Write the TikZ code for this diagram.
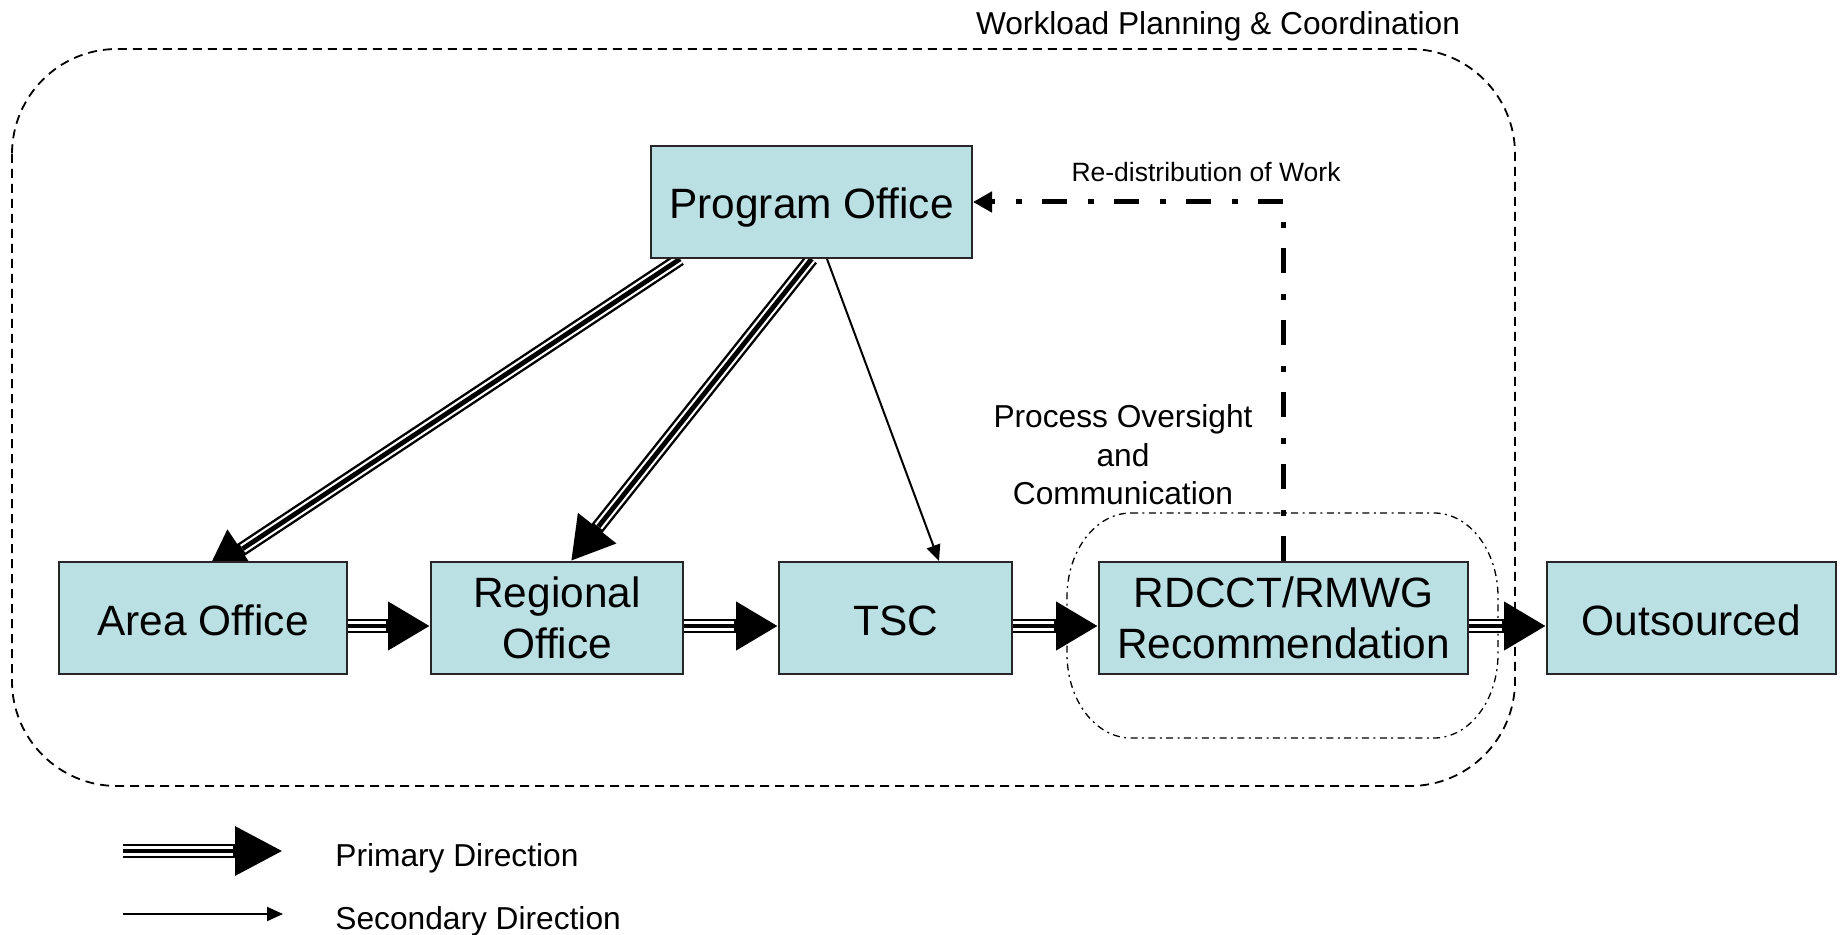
\documentclass[tikz,border=0pt]{standalone}
\usepackage{fontspec}
\setmainfont{Liberation Sans}
\usetikzlibrary{arrows.meta}
\pgfdeclarelayer{behind}
\pgfsetlayers{behind,main}
\definecolor{boxfill}{RGB}{187,224,227}
\newcommand\BoxFnt{\fontsize{21.2pt}{25.3pt}\selectfont}
\newcommand\MidFnt{\fontsize{15.85pt}{19.25pt}\selectfont}
\newcommand\SmallFnt{\fontsize{13.25pt}{16pt}\selectfont}

\begin{document}
\begin{tikzpicture}[x=0.5pt,y=-0.5pt,
  officebox/.style={draw=black!85, line width=1pt, fill=boxfill, inner sep=0pt,
    align=center, font=\BoxFnt, minimum height=56pt},
  oneline/.style={text height=17pt, text depth=0pt},
  primary/.style={draw=black, line width=7pt,
    -{Triangle[length=#1,width=23pt]},
    postaction={draw=white, line width=4.6pt, -, shorten >=#1+1pt},
    postaction={draw=black, line width=2.4pt, -, shorten >=#1+1pt}},
  primary/.default=21pt,
  secondary/.style={draw=black, line width=1pt, -{Triangle[length=8pt,width=7pt]}},
  redist/.style={draw=black, line width=2.5pt,
    dash pattern=on 12.5pt off 10pt on 3pt off 10.5pt,
    -{Triangle[length=9.5pt,width=10pt]}},
  outerline/.style={draw=black, line width=0.9pt, dash pattern=on 4.5pt off 3pt},
  innerline/.style={draw=black, line width=0.65pt,
    dash pattern=on 3.5pt off 2.2pt on 1pt off 2.2pt},
  plain/.style={inner sep=0pt}
]
\useasboundingbox (0,0) rectangle (1840,935);

% offices
\node[officebox, oneline, minimum width=160.5pt] (po)   at (811.5,202)  {Program Office};
\node[officebox, oneline, minimum width=144pt]   (area) at (203,618)    {Area Office};
\node[officebox, minimum width=126pt]            (reg)  at (557,618)    {Regional\\Office};
\node[officebox, oneline, minimum width=116.5pt] (tsc)  at (895.5,618)  {TSC};
\node[officebox, minimum width=184.5pt]          (rd)   at (1283.5,618) {RDCCT/RMWG\\Recommendation};
\node[officebox, oneline, minimum width=144.5pt] (out)  at (1691.5,618) {Outsourced};

% labels
\node[plain, font=\MidFnt] (title) at (1218,26) {Workload Planning \& Coordination};
\node[plain, font=\SmallFnt] (redistlbl) at (1206,172) {Re-distribution of Work};
\node[plain, font=\MidFnt, align=center] (oversight) at (1123,455)
  {Process Oversight\\and\\Communication};

% legend
\coordinate (pa) at (123,851);
\coordinate (pb) at (283,851);
\coordinate (sa) at (123,914);
\coordinate (sb) at (283,914);
\node[plain, font=\MidFnt, anchor=west] (lgp) at (335,858) {Primary Direction};
\node[plain, font=\MidFnt, anchor=west] (lgs) at (335,921) {Secondary Direction};

\begin{pgfonlayer}{behind}
  % planning and coordination boundary
  \draw[outerline, rounded corners=52.5pt] (12,49) rectangle (1515,786);
  % oversight boundary around the recommendation
  \draw[innerline] (1131,513) -- (1434,513)
    arc[start angle=90, end angle=0, x radius=32pt, y radius=42pt] -- (1498,654)
    arc[start angle=0, end angle=-90, x radius=32pt, y radius=42pt] -- (1131,738)
    arc[start angle=-90, end angle=-180, x radius=32pt, y radius=42pt] -- (1067,597)
    arc[start angle=180, end angle=90, x radius=32pt, y radius=42pt] -- cycle;

  % primary flow along the chain
  \draw[primary] ([yshift=-4pt]area.east) -- ([yshift=-4pt]reg.west);
  \draw[primary] ([yshift=-4pt]reg.east)  -- ([yshift=-4pt]tsc.west);
  \draw[primary] ([yshift=-4pt]tsc.east)  -- ([yshift=-4pt]rd.west);
  \draw[primary] ([yshift=-4pt]rd.east)   -- ([yshift=-4pt]out.west);

  % from the program office
  \draw[primary] ([xshift=-65.75pt]po.south) -- ([xshift=1.5pt,yshift=-6pt]area.north);
  \draw[primary] (po.south) -- ([xshift=7pt]reg.north);
  \draw[secondary] ([xshift=7.75pt]po.south) -- ([xshift=21.75pt]tsc.north);

  % re-distribution feedback
  \draw[redist] (rd.north) |- (po.east);

  % legend arrows
  \draw[primary=24pt] (pa) -- (pb);
  \draw[secondary] (sa) -- (sb);
\end{pgfonlayer}
\end{tikzpicture}
\end{document}
